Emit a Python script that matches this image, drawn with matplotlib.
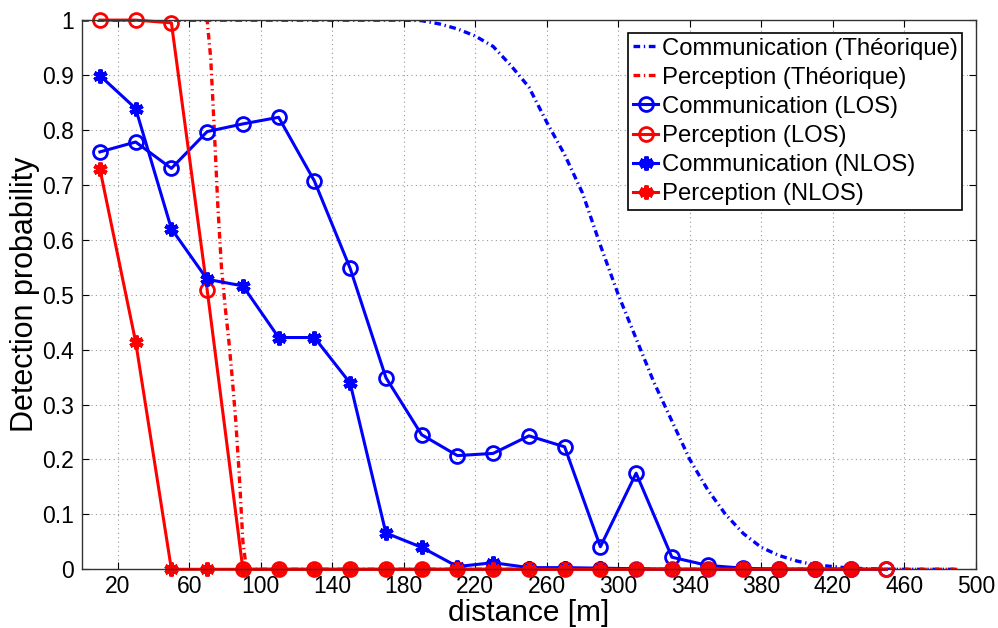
import matplotlib.pyplot as plt

plt.rcParams['font.family'] = ['Liberation Sans', 'DejaVu Sans']

# measured points, every 20 m
dist = [10, 30, 50, 70, 90, 110, 130, 150, 170, 190, 210, 230,
        250, 270, 290, 310, 330, 350, 370, 390, 410, 430, 450]
comm_los = [0.760, 0.778, 0.730, 0.797, 0.811, 0.823, 0.707, 0.548, 0.349, 0.245,
            0.207, 0.211, 0.243, 0.223, 0.041, 0.175, 0.022, 0.007, 0.002, 0.0,
            0.0, 0.0, 0.0]
perc_los = [1.0, 1.0, 0.995, 0.509, 0.0, 0.0, 0.0, 0.0, 0.0, 0.0, 0.0, 0.0,
            0.0, 0.0, 0.0, 0.0, 0.0, 0.0, 0.0, 0.0, 0.0, 0.0, 0.0]
dist_nlos = dist[:-1]
comm_nlos = [0.899, 0.839, 0.620, 0.528, 0.516, 0.422, 0.422, 0.339, 0.066, 0.040,
             0.005, 0.012, 0.003, 0.003, 0.002, 0.001, 0.0, 0.0, 0.0, 0.0, 0.0, 0.0]
perc_nlos = [0.729, 0.414, 0.0, 0.0, 0.0, 0.0, 0.0, 0.0, 0.0, 0.0, 0.0, 0.0,
             0.0, 0.0, 0.0, 0.0, 0.0, 0.0, 0.0, 0.0, 0.0, 0.0]

# theoretical curves
th_comm_x = [0, 180, 190, 200, 210, 220, 230, 240, 250, 260, 270, 280, 290, 300,
             310, 320, 330, 340, 350, 360, 370, 380, 390, 400, 410, 420, 430, 440,
             450, 490]
th_comm_y = [1.0, 1.0, 0.999, 0.993, 0.984, 0.971, 0.952, 0.917, 0.878, 0.814,
             0.755, 0.685, 0.590, 0.500, 0.420, 0.340, 0.270, 0.200, 0.145, 0.100,
             0.065, 0.040, 0.025, 0.015, 0.008, 0.005, 0.002, 0.001, 0.0, 0.0]
th_perc_x = [0, 70, 72, 74, 76, 78, 80, 82, 84, 86, 88, 90, 92, 490]
th_perc_y = [1.0, 1.0, 0.93, 0.80, 0.66, 0.55, 0.48, 0.42, 0.35, 0.27, 0.17, 0.05,
             0.0, 0.0]

xticks = list(range(20, 501, 40))
yticks = [i / 10 for i in range(11)]

fig = plt.figure(figsize=(9.98, 6.28), dpi=100)
ax = fig.add_axes([0.0822, 0.0935, 0.8955, 0.8745])

dashdot = (0, (2.0, 1.1, 0.4, 1.1))
ax.plot(th_comm_x, th_comm_y, color='#0000ff', lw=2.4, linestyle=dashdot,
        label='Communication (Théorique)')
ax.plot(th_perc_x, th_perc_y, color='#ff0000', lw=2.4, linestyle=dashdot,
        label='Perception (Théorique)')

star = (6, 2, 0)
common = dict(lw=2.2, clip_on=False)
ax.plot(dist, comm_los, color='#0000ff', marker='o', ms=10, mfc='none', mew=2,
        label='Communication (LOS)', **common)
ax.plot(dist, perc_los, color='#ff0000', marker='o', ms=10, mfc='none', mew=2,
        label='Perception (LOS)', **common)
ax.plot(dist_nlos, comm_nlos, color='#0000ff', marker=star, ms=10, mew=3,
        label='Communication (NLOS)', **common)
ax.plot(dist_nlos, perc_nlos, color='#ff0000', marker=star, ms=10, mew=3,
        label='Perception (NLOS)', **common)

ax.set_xlim(0, 500)
ax.set_ylim(0, 1)
ax.set_xticks(xticks)
ax.set_yticks(yticks)
ax.set_yticklabels(['0'] + [f'{v:g}' for v in yticks[1:-1]] + ['1'])
ax.tick_params(direction='in', length=5, labelsize=16.5, top=True, right=True,
               pad=6)
ax.tick_params(axis='x', pad=4)
ax.grid(True, linestyle=(0, (1, 3)), color='#999999', lw=0.8)
for s in ax.spines.values():
    s.set_linewidth(1.0)
    s.set_color('#333333')

ax.set_xlabel('distance [m]', fontsize=21.5, labelpad=1)
ax.set_ylabel('Detection probability', fontsize=22, labelpad=1)

leg = ax.legend(loc='upper right', bbox_to_anchor=(0.985, 0.977), fontsize=17.2,
                fancybox=False, edgecolor='black', framealpha=1,
                handlelength=1.05, handletextpad=0.15, labelspacing=0.3,
                borderpad=0.2, borderaxespad=0)
leg.get_frame().set_linewidth(1.2)

fig.savefig('out.png', dpi=100)
